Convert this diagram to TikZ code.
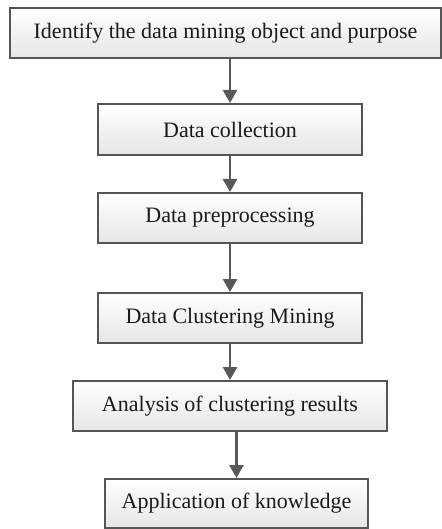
\documentclass[tikz,border=0pt]{standalone}
\usepackage{fontspec}
\setmainfont{Liberation Serif}
\usetikzlibrary{arrows.meta,calc}
\definecolor{edgegray}{HTML}{555555}
\definecolor{arrowgray}{HTML}{595959}
\definecolor{txtgray}{HTML}{1A1A1A}
\tikzset{
  stepbox/.style={draw=edgegray, line width=2bp, top color=white, bottom color=black!10,
    inner sep=0pt, text=txtgray, font=\fontsize{22bp}{26bp}\selectfont},
  flowarrow/.style={draw=arrowgray, line width=2.6bp, -{Triangle[length=13bp,width=14bp]}, arrowgray}
}
\begin{document}
\begin{tikzpicture}[x=1bp,y=-1bp]
\useasboundingbox (0,0) rectangle (442,529);
\node[stepbox, minimum width=431bp, minimum height=50bp] (b1) at (225.5,33) {Identify the data mining object and purpose};
\node[stepbox, minimum width=264bp, minimum height=51bp] (b2) at (230,129.5) {Data collection};
\node[stepbox, minimum width=264bp, minimum height=50bp] (b3) at (230,218) {Data preprocessing};
\node[stepbox, minimum width=264bp, minimum height=50bp] (b4) at (230,318) {Data Clustering Mining};
\node[stepbox, minimum width=314bp, minimum height=50bp] (b5) at (230,406) {Analysis of clustering results};
\node[stepbox, minimum width=263bp, minimum height=49bp] (b6) at (236.5,503.5) {Application of knowledge};
\draw[flowarrow] (b1.south -| b2.north) -- (b2.north);
\draw[flowarrow] (b2) -- (b3);
\draw[flowarrow] (b3) -- (b4);
\draw[flowarrow] (b4) -- (b5);
\draw[flowarrow] (b5.south -| b6.north) -- (b6.north);
\end{tikzpicture}
\end{document}
